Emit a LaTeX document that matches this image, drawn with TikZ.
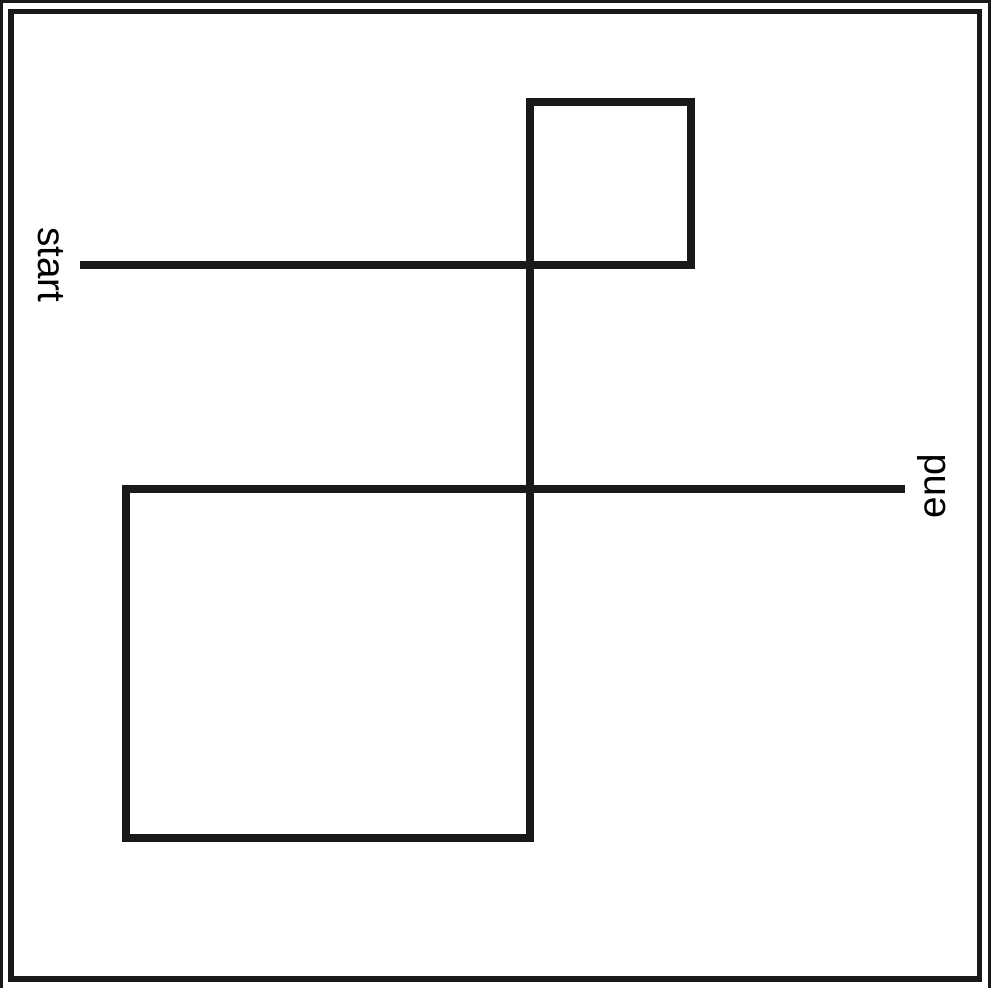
\documentclass[tikz,border=0pt]{standalone}
\usepackage{fontspec}
\setmainfont{Liberation Sans}

\begin{document}
\begin{tikzpicture}[
        x=0.01cm, y=-0.01cm,
        frame/.style={draw=black!90, line width=0.055cm},
        outerframe/.style={draw=black!90, line width=0.03cm},
        route/.style={draw=black!90, line width=0.08cm, line join=miter},
        label/.style={font=\fontsize{11}{13}\selectfont, inner sep=0pt}
      ]
        \useasboundingbox (0,0) rectangle (991,987);
        \draw[outerframe] (1.5,1.5) rectangle (989.5,995);
        \draw[frame] (11,11.5) rectangle (979.5,979);

        \coordinate (s)  at (80,265);
        \coordinate (a)  at (691,265);
        \coordinate (b)  at (691,102);
        \coordinate (c)  at (530,102);
        \coordinate (d)  at (530,838);
        \coordinate (e)  at (126,838);
        \coordinate (f)  at (126,489);
        \coordinate (t)  at (905,489);

        \node[label, rotate=-90] (start) at (51,265) {start};
        \node[label, rotate=90]  (end)   at (932,486) {end};

        \draw[route] (s) -- (a) -- (b) -- (c) -- (d) -- (e) -- (f) -- (t);
      \end{tikzpicture}
\end{document}
